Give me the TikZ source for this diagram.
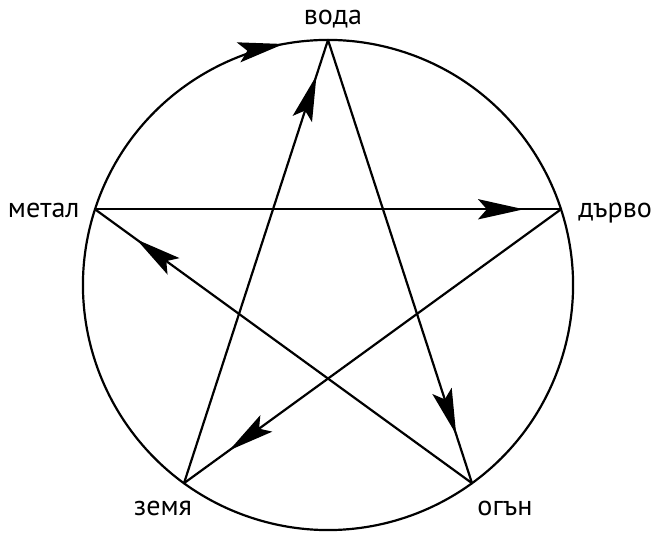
\documentclass[tikz,border=0pt]{standalone}
\usepackage{fontspec}
\setmainfont{PT Sans}
\usetikzlibrary{arrows.meta,decorations.markings,calc}

\begin{document}
\begin{tikzpicture}[x=0.02cm, y=0.02cm,
    edge/.style={line width=1.25pt, line cap=round},
    tip at/.style={postaction={decorate}, decoration={markings,
        mark=at position #1 with {\arrow{Stealth[length=26pt, width=11.5pt, inset=5pt]}}}},
    element/.style={font=\fontsize{16}{19}\selectfont, inner sep=0pt}
]
\useasboundingbox (0,0) rectangle (658,533);

% --- points of the star ---
\coordinate (c) at (328,248);
\coordinate (voda)  at ($(c)+(90:245)$);
\coordinate (darvo) at ($(c)+(18:245)$);
\coordinate (ogan)  at ($(c)+(-54:245)$);
\coordinate (zemya) at ($(c)+(234:245)$);
\coordinate (metal) at ($(c)+(162:245)$);

% --- labels ---
\node[element, anchor=base]      (lvoda)  at ($(voda)+(5,15)$)    {вода};
\node[element, anchor=base west] (ldarvo) at ($(darvo)+(17,-8)$)  {дърво};
\node[element, anchor=base east] (lmetal) at ($(metal)+(-15,-8)$) {метал};
\node[element, anchor=base]      (lzemya) at ($(zemya)+(-21,-32)$) {земя};
\node[element, anchor=base]      (logan)  at ($(ogan)+(33,-32)$)  {огън};

% --- circle ---
\draw[edge, tip at=0.171] (metal) arc[start angle=162, end angle=-198, radius=245];

% --- star ---
\draw[edge, tip at=0.92] (zemya) -- (voda);
\draw[edge, tip at=0.89] (voda) -- (ogan);
\draw[edge, tip at=0.89] (ogan) -- (metal);
\draw[edge, tip at=0.92] (metal) -- (darvo);
\draw[edge, tip at=0.88] (darvo) -- (zemya);

\end{tikzpicture}
\end{document}
